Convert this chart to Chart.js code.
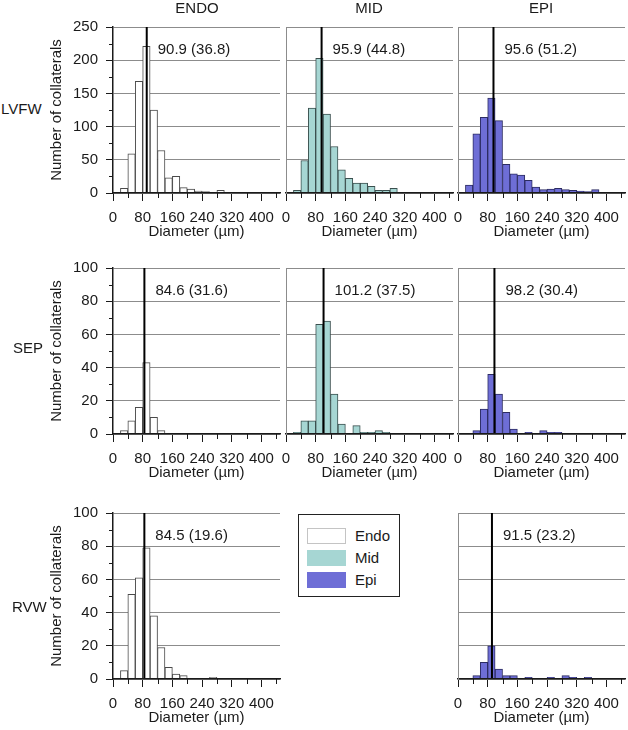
<!DOCTYPE html>
<html>
<head>
<meta charset="utf-8">
<script src="https://cdn.jsdelivr.net/npm/chart.js@4.4.1/dist/chart.umd.min.js"></script>
<style>
  body { margin: 0; width: 628px; height: 730px; overflow: hidden; background: #fff; position: relative;
         font-family: "Liberation Sans", Arial, sans-serif; color: #1a1a1a; }
  canvas { position: absolute; }
  .txt { position: absolute; font-size: 15px; line-height: 16px; white-space: nowrap; }
  #legend { position: absolute; left: 298px; top: 514px; width: 100px; height: 81px; border: 1.5px solid #222; }
  .sw { position: absolute; width: 39px; height: 16px; box-sizing: border-box; }
</style>
</head>
<body>
<script>
// histogram bins, 20 um wide (centres)
const binCenters = [10, 30, 50, 70, 90, 110, 130, 150, 170, 190, 210, 230, 250, 270, 290, 310, 330, 350, 370, 390, 410, 430];

// counts per bin
const lvfwEndo = [0, 7, 59, 168, 221, 125, 64, 23, 25, 8, 6, 3, 2, 1, 4, 1, 0, 0, 0, 0, 0, 0];
const lvfwMid  = [0, 4, 49, 128, 203, 119, 70, 35, 22, 15, 15, 10, 4, 4, 7, 0, 1, 1, 1, 0, 0, 0];
const lvfwEpi  = [0, 12, 89, 114, 143, 109, 43, 29, 27, 19, 9, 5, 6, 7, 5, 4, 3, 2, 5, 1, 0, 0];
const sepEndo  = [0, 2, 8, 16, 43, 10, 2, 0, 0, 0, 0, 0, 0, 0, 0, 0, 0, 0, 0, 0, 0, 0];
const sepMid   = [0, 1, 8, 8, 66, 68, 24, 6, 0, 5, 1, 1, 2, 1, 0, 0, 0, 0, 0, 0, 0, 0];
const sepEpi   = [0, 0, 2, 15, 36, 24, 13, 3, 0, 1, 0, 2, 1, 1, 0, 0, 0, 0, 0, 0, 0, 0];
const rvwEndo  = [0, 5, 51, 61, 79, 38, 19, 7, 3, 2, 0, 0, 0, 1, 0, 0, 0, 0, 0, 0, 0, 0];
const rvwEpi   = [0, 0, 2, 10, 20, 6, 2, 2, 0, 1, 0, 0, 1, 0, 2, 1, 0, 1, 0, 0, 0, 0];

// mean (SD) per panel: ENDO, MID, EPI
const lvfwMeans = [90.9, 95.9, 95.6];
const lvfwSds   = [36.8, 44.8, 51.2];
const sepMeans  = [84.6, 101.2, 98.2];
const sepSds    = [31.6, 37.5, 30.4];
const rvwMeans  = [84.5, null, 91.5];
const rvwSds    = [19.6, null, 23.2];

const rowNames = ['LVFW', 'SEP', 'RVW'];
const colNames = ['ENDO', 'MID', 'EPI'];
const layerNames = ['Endo', 'Mid', 'Epi'];
const layerFill = ['#ffffff', '#a6d6d3', '#6e6ed6'];
const layerBorder = ['#4a4a4a', '#3a4f4e', '#2c2c62'];

const yMax = [250, 100, 100];
const yStep = [25, 10, 10];
const yMajor = [50, 20, 20];

// layout of plot areas (px)
const colLeft = [113, 286, 458];
const rowTop = [27, 268, 513];
const plotW = 167, plotH = 166;

const FONT = '"Liberation Sans", Arial, sans-serif';
const INK = '#1a1a1a';
const GRID = '#8c8c8c';
Chart.defaults.font.family = FONT;
Chart.defaults.font.size = 15;
Chart.defaults.color = INK;

// short ticks for the unlabelled positions
const minorTicks = {
    id: 'minorTicks',
    afterDraw(chart) {
        const ctx = chart.ctx;
        ctx.save();
        ctx.strokeStyle = INK;
        ctx.lineWidth = 1;
        const x = chart.scales.x;
        x.ticks.forEach((t, i) => {
            if (t.label !== '') return;
            const px = Math.round(x.getPixelForTick(i)) + 0.5;
            ctx.beginPath();
            ctx.moveTo(px, x.top);
            ctx.lineTo(px, x.top + 5);
            ctx.stroke();
        });
        const y = chart.scales.y;
        if (y.options.ticks.display) {
            y.ticks.forEach((t, i) => {
                if (t.label !== '') return;
                const py = Math.round(y.getPixelForTick(i)) + 0.5;
                ctx.beginPath();
                ctx.moveTo(y.right, py);
                ctx.lineTo(y.right - 4, py);
                ctx.stroke();
            });
        }
        ctx.restore();
    }
};

const meanLabel = {
    id: 'meanLabel',
    afterDatasetsDraw(chart, args, opts) {
        const ctx = chart.ctx;
        const x = chart.scales.x;
        ctx.save();
        ctx.font = '15px ' + FONT;
        ctx.fillStyle = INK;
        ctx.textBaseline = 'middle';
        ctx.fillText(opts.text, x.getPixelForValue(opts.mean) + 11, chart.chartArea.top + 23);
        ctx.restore();
    }
};

function makePanel(row, col, counts, mean, sd) {
    const first = col === 0;
    const L = first ? 70 : 20, T = 20, R = 12, B = 50;
    const cv = document.createElement('canvas');
    cv.width = L + plotW + R;
    cv.height = T + plotH + B;
    cv.style.left = (colLeft[col] - L) + 'px';
    cv.style.top = (rowTop[row] - T) + 'px';
    document.body.appendChild(cv);

    new Chart(cv, {
        type: 'bar',
        data: {
            datasets: [
                {
                    type: 'line',
                    data: [{x: mean, y: 0}, {x: mean, y: yMax[row]}],
                    borderColor: '#000',
                    borderWidth: 2,
                    pointRadius: 0,
                    order: 0
                },
                {
                    data: binCenters.map((c, i) => ({x: c, y: counts[i]})),
                    backgroundColor: layerFill[col],
                    borderColor: layerBorder[col],
                    borderWidth: 1,
                    barPercentage: 1,
                    categoryPercentage: 1,
                    order: 1
                }
            ]
        },
        options: {
            responsive: false,
            animation: false,
            devicePixelRatio: 1,
            layout: { padding: { top: T, right: R, left: 0, bottom: 0 } },
            plugins: {
                legend: { display: false },
                tooltip: { enabled: false },
                meanLabel: { mean: mean, text: mean.toFixed(1) + ' (' + sd.toFixed(1) + ')' }
            },
            scales: {
                x: {
                    type: 'linear',
                    min: 0,
                    max: 450,
                    offset: false,
                    afterFit: s => { s.height = B; },
                    grid: {
                        drawOnChartArea: false,
                        offset: false,
                        tickLength: 8,
                        tickColor: c => (c.tick && c.tick.value % 80 === 0) ? INK : 'rgba(0,0,0,0)'
                    },
                    border: { color: INK, width: 1.5, z: 1 },
                    ticks: {
                        stepSize: 40,
                        includeBounds: false,
                        autoSkip: false,
                        maxRotation: 0,
                        minRotation: 0,
                        padding: 8,
                        callback: v => v % 80 === 0 ? v : ''
                    },
                    title: { display: true, text: 'Diameter (µm)', padding: { top: 0, bottom: 2 } }
                },
                y: {
                    min: 0,
                    max: yMax[row],
                    afterFit: s => { s.width = L; },
                    grid: {
                        color: c => (c.tick && c.tick.value % yMajor[row] === 0) ? GRID : 'rgba(0,0,0,0)',
                        drawTicks: first,
                        tickLength: 7,
                        tickColor: c => (c.tick && c.tick.value % yMajor[row] === 0) ? INK : 'rgba(0,0,0,0)'
                    },
                    border: { color: first ? INK : GRID, width: first ? 1.5 : 1, z: 1 },
                    ticks: {
                        display: first,
                        stepSize: yStep[row],
                        autoSkip: false,
                        padding: 8,
                        callback: v => v % yMajor[row] === 0 ? v : ''
                    },
                    title: { display: first, text: 'Number of collaterals', padding: { top: 5, bottom: 0 } }
                }
            }
        },
        plugins: [minorTicks, meanLabel]
    });
}

makePanel(0, 0, lvfwEndo, lvfwMeans[0], lvfwSds[0]);
makePanel(0, 1, lvfwMid, lvfwMeans[1], lvfwSds[1]);
makePanel(0, 2, lvfwEpi, lvfwMeans[2], lvfwSds[2]);
makePanel(1, 0, sepEndo, sepMeans[0], sepSds[0]);
makePanel(1, 1, sepMid, sepMeans[1], sepSds[1]);
makePanel(1, 2, sepEpi, sepMeans[2], sepSds[2]);
makePanel(2, 0, rvwEndo, rvwMeans[0], rvwSds[0]);
makePanel(2, 2, rvwEpi, rvwMeans[2], rvwSds[2]);

// column and row titles
const colCenters = [197, 369, 541];
colNames.forEach((name, i) => {
    const d = document.createElement('div');
    d.className = 'txt';
    d.textContent = name;
    d.style.top = '0px';
    d.style.left = (colCenters[i] - 60) + 'px';
    d.style.width = '120px';
    d.style.textAlign = 'center';
    document.body.appendChild(d);
});
const rowLabelLeft = [1, 13, 12];
const rowLabelY = [109, 348, 607];
rowNames.forEach((name, i) => {
    const d = document.createElement('div');
    d.className = 'txt';
    d.textContent = name;
    d.style.left = rowLabelLeft[i] + 'px';
    d.style.top = (rowLabelY[i] - 8) + 'px';
    document.body.appendChild(d);
});

// legend box
const legend = document.createElement('div');
legend.id = 'legend';
document.body.appendChild(legend);
const swatchTop = [13, 35, 57];
layerNames.forEach((name, i) => {
    const sw = document.createElement('div');
    sw.className = 'sw';
    sw.style.left = '8px';
    sw.style.top = swatchTop[i] + 'px';
    sw.style.background = layerFill[i];
    sw.style.border = '1px solid ' + (i === 0 ? '#c4c4c4' : layerFill[i]);
    legend.appendChild(sw);
    const t = document.createElement('div');
    t.className = 'txt';
    t.textContent = name;
    t.style.left = '56px';
    t.style.top = swatchTop[i] + 'px';
    legend.appendChild(t);
});
</script>
</body>
</html>
